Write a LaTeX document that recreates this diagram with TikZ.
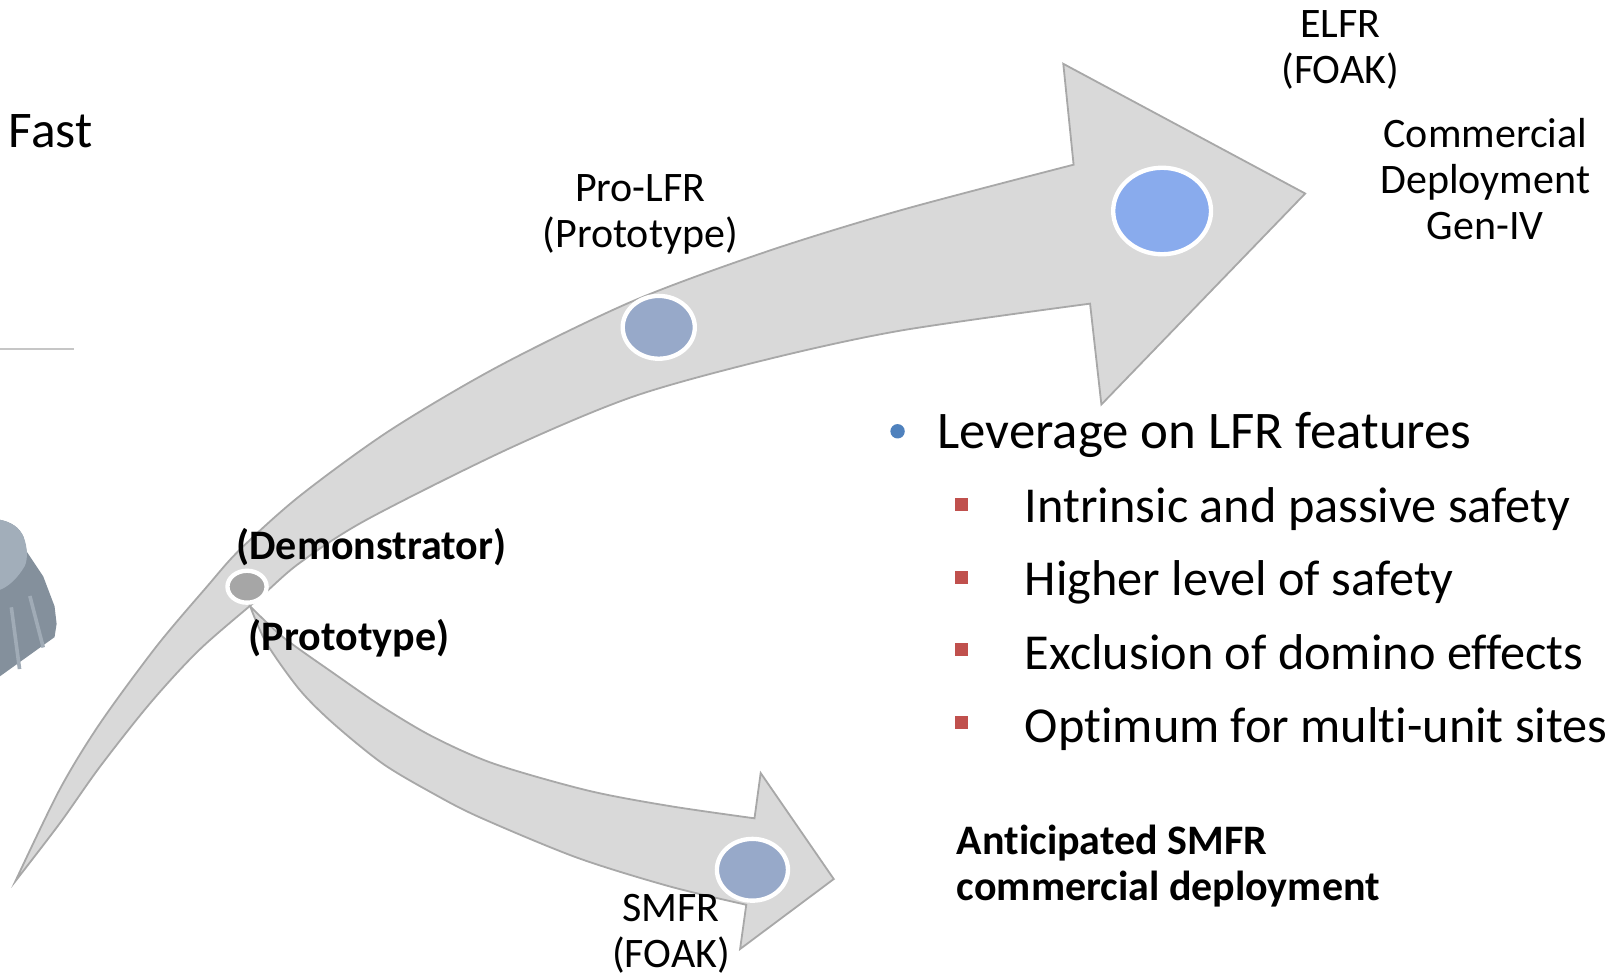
\documentclass[tikz,border=0pt]{standalone}
\usepackage{fontspec}
\setmainfont{Carlito}[Ligatures=NoCommon]
\usepackage{xcolor}
\usepackage{tikz}
\usetikzlibrary{shapes.geometric}

\definecolor{bandgray}{RGB}{217,217,217}
\definecolor{bandedge}{RGB}{168,168,168}
\definecolor{stageblue}{RGB}{151,169,201}
\definecolor{elfrblue}{RGB}{137,171,237}
\definecolor{demogray}{RGB}{166,166,166}
\definecolor{bulletblue}{RGB}{79,129,189}
\definecolor{bulletred}{RGB}{192,80,77}
\definecolor{vesselside}{RGB}{132,144,156}
\definecolor{vesseltop}{RGB}{162,174,186}
\definecolor{vesselline}{RGB}{160,171,182}

\tikzset{
    band/.style={fill=bandgray, draw=bandedge, line width=0.5pt, line join=miter},
    stage/.style={ellipse, draw=white, line width=1.2pt, inner sep=0pt},
    small/.style={font=\fontsize{11.6}{12.7}\selectfont, inner sep=0pt},
    smallbold/.style={font=\fontsize{11.6}{12.7}\selectfont\bfseries, inner sep=0pt},
    feature/.style={font=\fontsize{13.9}{16}\selectfont, anchor=base west, inner sep=0pt},
    sqmark/.style={rectangle, fill=bulletred, inner sep=0pt, minimum size=0.13cm}
}

\begin{document}
\begin{tikzpicture}[x=0.01cm, y=-0.01cm]
    \useasboundingbox (0,0) rectangle (1568,946);

    % vessel cut by the left border
    \fill[vesselside] (0,505) .. controls (10,507) and (19,512) .. (23,522) -- (26,536) -- (42,560) -- (53,589) -- (55,606) -- (53,619) -- (0,657) -- cycle;
    \fill[vesseltop] (0,505) .. controls (10,507) and (19,512) .. (23,522) .. controls (27,532) and (27,544) .. (24,550) .. controls (17,562) and (8,570) .. (0,573) -- cycle;
    \draw[vesselline, line width=1pt] (11,590) -- (19,650);
    \draw[vesselline, line width=1pt] (29,579) -- (42,629);
    \draw[gray!45, line width=0.5pt] (0,339) -- (72,339);

    % long arrow towards ELFR
    \filldraw[band] plot[smooth] coordinates {(15,856) (58,767) (97,703) (152,628) (201,570) (233,534) (291,482) (379,418) (486,355) (616,292) (746,244) (876,204) (1043,160)}
        -- (1033,62) -- (1268,188) -- (1070,393) -- (1059,295)
        -- plot[smooth] coordinates {(1059,295) (876,321) (746,349) (616,385) (494,436) (356,505) (291,547) (253,580) (194,631) (146,683) (97,745) (58,800) (15,856)} -- cycle;

    % branch towards SMFR
    \filldraw[band] plot[smooth] coordinates {(243,589) (275,619) (324,654) (372,687) (421,716) (480,742) (571,768) (650,783) (733,795)}
        -- (739,751) -- (810,854) -- (719,922) -- (725,879)
        -- plot[smooth] coordinates {(725,879) (650,861) (560,833) (466,794) (421,771) (372,742) (324,703) (291,670) (259,625) (243,589)} -- cycle;

    \node[stage, fill=demogray, minimum width=0.38cm, minimum height=0.31cm] (demo-dot) at (240,570) {};
    \node[stage, fill=stageblue, minimum width=0.70cm, minimum height=0.61cm] (prolfr-dot) at (640,318) {};
    \node[stage, fill=elfrblue, minimum width=0.95cm, minimum height=0.84cm] (elfr-dot) at (1129,205) {};
    \node[stage, fill=stageblue, minimum width=0.69cm, minimum height=0.60cm] (smfr-dot) at (731,845) {};

    \node[font=\fontsize{14.2}{17}\selectfont, anchor=base west, inner sep=0pt] (fast) at (8,143) {Fast};
    \node[small, align=center, anchor=base] (elfr) at (1302,81) {ELFR\\(FOAK)};
    \node[small, align=center, anchor=base] (commercial) at (1443,233) {Commercial\\Deployment\\Gen-IV};
    \node[small, align=center, anchor=base] (prolfr) at (622,240) {Pro-LFR\\(Prototype)};
    \node[small, align=center, anchor=base] (smfr) at (652,940) {SMFR\\(FOAK)};
    \node[smallbold, anchor=base west] (demo) at (229,544) {(Demonstrator)};
    \node[smallbold, anchor=base west] (proto) at (241,632) {(Prototype)};
    \node[smallbold, align=left, anchor=base west] (anticipated) at (929,875) {Anticipated SMFR\\commercial deployment};

    \node[circle, fill=bulletblue, inner sep=0pt, minimum size=0.14cm] (dot) at (872,419) {};
    \node[font=\fontsize{14.6}{17.5}\selectfont, anchor=base west, inner sep=0pt] (leverage) at (910,436) {Leverage on LFR features};
    \node[sqmark] (sq1) at (934,490) {};
    \node[feature] (f1) at (995,508) {Intrinsic and passive safety};
    \node[sqmark] (sq2) at (934,561) {};
    \node[feature] (f2) at (995,579) {Higher level of safety};
    \node[sqmark] (sq3) at (934,631) {};
    \node[feature] (f3) at (995,650) {Exclusion of domino effects};
    \node[sqmark] (sq4) at (934,702) {};
    \node[feature] (f4) at (995,721) {Optimum for multi-unit sites};
\end{tikzpicture}
\end{document}
